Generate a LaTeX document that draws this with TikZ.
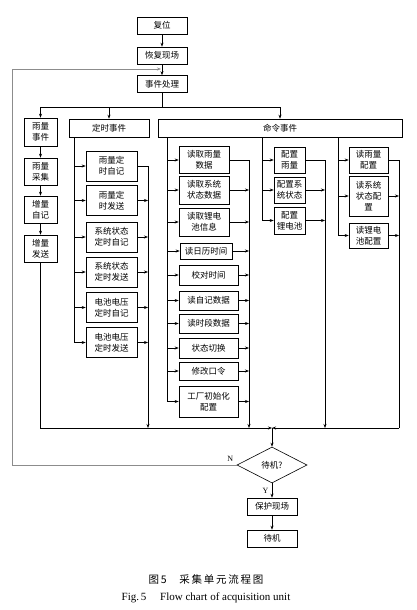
\documentclass[tikz,border=0pt]{standalone}
\usepackage{fontspec}
\setmainfont{Liberation Serif}
\newfontfamily\cjk{Noto Sans CJK SC}
\usetikzlibrary{shapes.geometric,arrows.meta,positioning}

\begin{document}
\begin{tikzpicture}[x=1pt,y=-1pt,
    proc/.style={rectangle,draw,line width=0.6pt,inner sep=1pt,align=center,
      font=\cjk\fontsize{8.5}{11}\selectfont,minimum width=#1},
    proc/.default=50pt,
    decide/.style={diamond,draw,line width=0.6pt,aspect=2,inner sep=0pt,
      minimum width=70pt,minimum height=36pt,font=\cjk\fontsize{8.5}{11}\selectfont},
    line/.style={line width=0.6pt},
    arrow/.style={->,>={Stealth[length=4pt,width=3pt]},line width=0.6pt},
    lbl/.style={font=\fontsize{8}{10}\selectfont}]
  \useasboundingbox (0,0) rectangle (416,610);

  % main line
  \node[proc,minimum height=17pt] (reset) at (162,25.5) {复位};
  \node[proc,minimum height=17pt] (restore) at (162,55.5) {恢复现场};
  \node[proc,minimum height=17pt] (handle) at (162,84) {事件处理};
  \draw[arrow] (reset) -- (restore);
  \draw[arrow] (restore) -- (handle);

  % three kinds of events
  \node[proc=33pt,minimum height=28pt] (rain) at (40.5,132) {雨量\\事件};
  \node[proc=80pt,minimum height=18pt] (timer) at (109,128) {定时事件};
  \node[proc=244pt,minimum height=18pt] (cmd) at (280,128) {命令事件};
  \coordinate (split) at (162,107);
  \draw[line] (handle) -- (split);
  \draw[line] (split -| rain) -- (split -| cmd);
  \foreach \n in {rain,timer,cmd}
    \draw[arrow] (split -| \n) -- (\n.north);

  % rain event
  \node[proc=33pt,minimum height=27pt] (acq) at (40.5,171.5) {雨量\\采集};
  \node[proc=33pt,minimum height=27pt] (incrrec) at (40.5,209.5) {增量\\自记};
  \node[proc=33pt,minimum height=27pt] (incrsend) at (40.5,248.5) {增量\\发送};
  \draw[arrow] (rain) -- (acq);
  \draw[arrow] (acq) -- (incrrec);
  \draw[arrow] (incrrec) -- (incrsend);

  % timer events
  \node[proc=51pt,minimum height=30pt] (t1) at (111.5,166) {雨量定\\时自记};
  \node[proc=51pt,minimum height=30pt] (t2) at (111.5,200.5) {雨量定\\时发送};
  \node[proc=51pt,minimum height=30pt] (t3) at (111.5,237) {系统状态\\定时自记};
  \node[proc=51pt,minimum height=30pt] (t4) at (111.5,272) {系统状态\\定时发送};
  \node[proc=51pt,minimum height=30pt] (t5) at (111.5,307.5) {电池电压\\定时自记};
  \node[proc=51pt,minimum height=30pt] (t6) at (111.5,342.5) {电池电压\\定时发送};

  % command events
  \node[proc=50pt,minimum height=27pt] (c1) at (204,160) {读取雨量\\数据};
  \node[proc=50pt,minimum height=28pt] (c2) at (204,190) {读取系统\\状态数据};
  \node[proc=50pt,minimum height=28pt] (c3) at (204,222) {读取锂电\\池信息};
  \node[proc=52pt,minimum height=16pt] (c4) at (206,251) {读日历时间};
  \node[proc=59pt,minimum height=20pt] (c5) at (208.5,275) {校对时间};
  \node[proc=59pt,minimum height=19pt] (c6) at (208.5,300.5) {读自记数据};
  \node[proc=59pt,minimum height=19pt] (c7) at (208.5,323.5) {读时段数据};
  \node[proc=59pt,minimum height=20pt] (c8) at (208.5,348) {状态切换};
  \node[proc=59pt,minimum height=18pt] (c9) at (208.5,371) {修改口令};
  \node[proc=59pt,minimum height=31pt] (c10) at (208.5,401.5) {工厂初始化\\配置};

  \node[proc=31pt,minimum height=26pt] (s1) at (289.5,160) {配置\\雨量};
  \node[proc=31pt,minimum height=26pt] (s2) at (289.5,190) {配置系\\统状态};
  \node[proc=31pt,minimum height=27pt] (s3) at (289.5,220.5) {配置\\锂电池};

  \node[proc=39pt,minimum height=26pt] (r1) at (368.5,160) {读雨量\\配置};
  \node[proc=39pt,minimum height=40pt] (r2) at (368.5,196) {读系统\\状态配\\置};
  \node[proc=39pt,minimum height=25pt] (r3) at (368.5,235.5) {读锂电\\池配置};

  % feeder lines (left) and collectors (right)
  \coordinate (tin) at (74,137);
  \coordinate (cin) at (167,137);
  \coordinate (sin) at (262,137);
  \coordinate (rin) at (338,137);
  \coordinate (bus) at (272,428);
  \coordinate (tout) at (148,428);
  \coordinate (cout) at (249,428);
  \coordinate (sout) at (325,428);
  \coordinate (rout) at (399,428);

  \draw[line] (tin) -- (tin |- t6);
  \foreach \i in {1,...,6}
    \draw[arrow] (tin |- t\i) -- (t\i.west);
  \draw[line] (cin) -- (cin |- c10);
  \foreach \i in {1,...,10}
    \draw[arrow] (cin |- c\i) -- (c\i.west);
  \draw[line] (sin) -- (sin |- s3);
  \foreach \i in {1,2,3}
    \draw[arrow] (sin |- s\i) -- (s\i.west);
  \draw[line] (rin) -- (rin |- r3);
  \foreach \i in {1,2,3}
    \draw[arrow] (rin |- r\i) -- (r\i.west);

  \draw[arrow] (t1.east) -- (t1.east -| tout) -- (tout);
  \foreach \i in {2,...,6}
    \draw[arrow] (t\i.east) -- (t\i.east -| tout);
  \draw[arrow] (c1.east) -- (c1.east -| cout) -- (cout);
  \foreach \i in {2,...,10}
    \draw[arrow] (c\i.east) -- (c\i.east -| cout);
  \draw[arrow] (s1.east) -- (s1.east -| sout) -- (sout);
  \foreach \i in {2,3}
    \draw[arrow] (s\i.east) -- (s\i.east -| sout);
  \draw[line] (r1.east) -- (r1.east -| rout) -- (rout);
  \foreach \i in {2,3}
    \draw[arrow] (r\i.east) -- (r\i.east -| rout);

  % bus
  \draw[arrow,line width=0.8pt] (incrsend) -- (incrsend |- bus) -- (bus);
  \draw[arrow,line width=0.8pt] (rout) -- (bus);

  % end
  \node[decide] (wait) at (272,465) {待机?};
  \node[proc,minimum height=17pt] (save) at (272,506.5) {保护现场};
  \node[proc,minimum height=17pt] (standby) at (272,538.5) {待机};
  \draw[arrow] (bus) -- (wait);
  \draw[arrow] (wait) -- node[lbl,left,pos=0.5] {Y} (save);
  \draw[arrow] (save) -- (standby);
  \coordinate (loop) at (12,69);
  \draw[arrow,black!45] (wait.west) -- (wait.west -| loop) -- (loop) -- ([xshift=-1pt]loop -| restore);
  \node[lbl,above left] (nlbl) at (wait.west) {N};

  % caption
  \node[font=\cjk\fontsize{10.5}{12}\selectfont] (cap) at (206,579)
    {图\,5\quad\ 采\,集\,单\,元\,流\,程\,图};
  \node[font=\fontsize{11}{13}\selectfont] (capen) at (206,598)
    {Fig.\,5\quad\ Flow chart of acquisition unit};
\end{tikzpicture}
\end{document}
